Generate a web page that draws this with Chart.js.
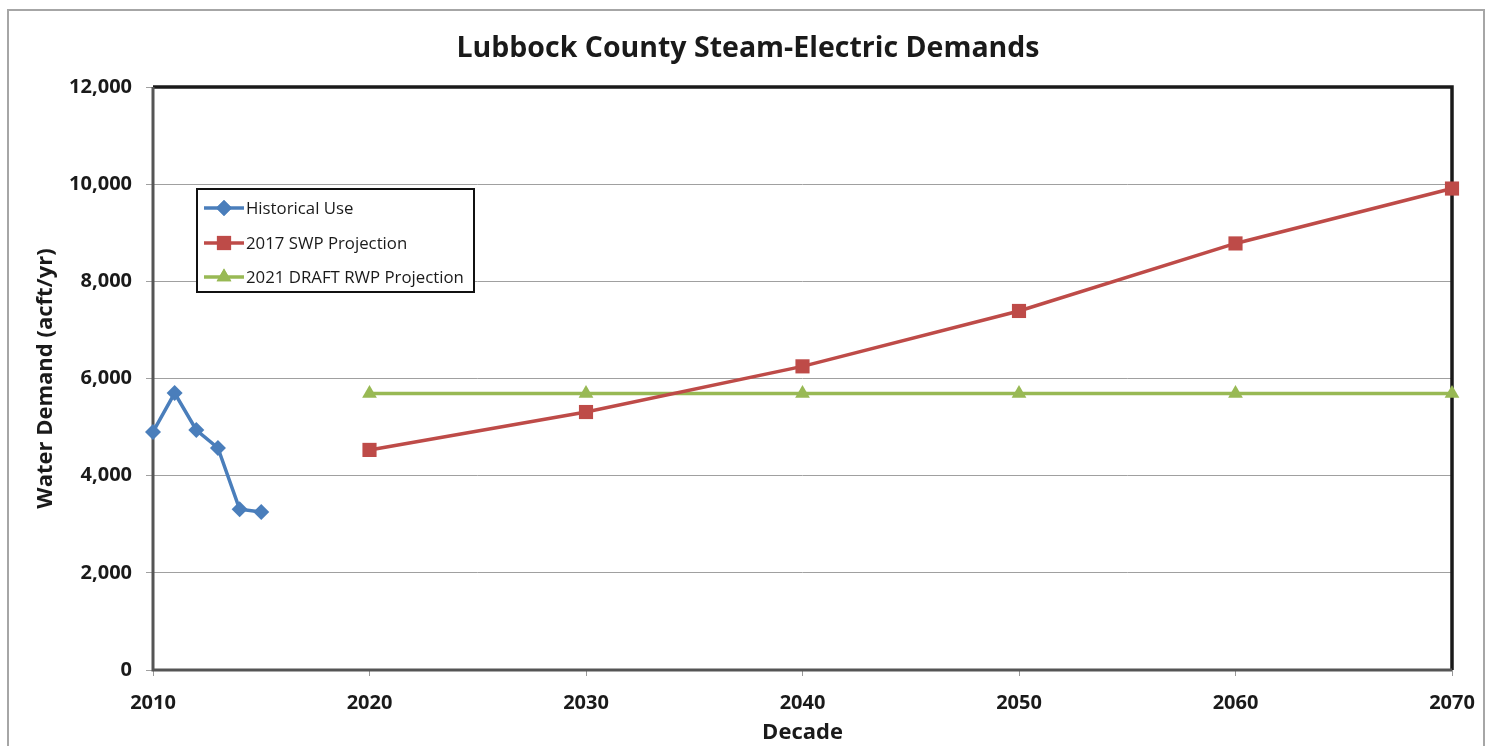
<!DOCTYPE html>
<html><head><meta charset="utf-8">
<script src="https://cdn.jsdelivr.net/npm/chart.js@4"></script>
<style>
html,body{margin:0;padding:0;background:#fff;}
#wrap{position:relative;width:1496px;height:746px;overflow:hidden;font-family:"Open Sans","Liberation Sans",sans-serif;}
#frame{position:absolute;left:7px;top:9px;width:1478px;height:760px;border:2px solid #a6a6a6;box-sizing:border-box;}
#title{position:absolute;left:0;width:1496px;top:26px;text-align:center;font-weight:bold;font-size:28.5px;line-height:40px;color:#1a1a1a;}
#legend{position:absolute;left:196px;top:188px;width:279px;height:105px;border:2px solid #111;background:#fff;box-sizing:border-box;font-size:16.8px;color:#1a1a1a;}
.li{position:absolute;left:6px;height:22px;line-height:22px;white-space:nowrap;}
.li canvas{vertical-align:middle;}
.li span{vertical-align:middle;margin-left:2px;}
canvas#c{position:absolute;left:0;top:0;}
</style></head>
<body><div id="wrap">
<div id="frame"></div>
<canvas id="c" width="1496" height="746"></canvas>
<div id="title">Lubbock County Steam-Electric Demands</div>
<div id="legend"></div>
</div>
<script>
const histYears = [2010, 2011, 2012, 2013, 2014, 2015];
const histValues = [4900, 5700, 4940, 4570, 3310, 3250];
const projYears = [2020, 2030, 2040, 2050, 2060, 2070];
const swpValues = [4530, 5310, 6250, 7390, 8780, 9910];
const rwpValues = [5690, 5690, 5690, 5690, 5690, 5690];
const seriesNames = ["Historical Use", "2017 SWP Projection", "2021 DRAFT RWP Projection"];
const xTicks = [2010, 2020, 2030, 2040, 2050, 2060, 2070];

const colors = ["#4a7ebb", "#be4b48", "#98b954"];
const styles = ["rectRot", "rect", "triangle"];
const radii = [8, 10, 8.5];

function pts(xs, ys){ return xs.map((x,i)=>({x:x, y:ys[i]})); }

const datasets = [
  {label: seriesNames[0], data: pts(histYears, histValues)},
  {label: seriesNames[1], data: pts(projYears, swpValues)},
  {label: seriesNames[2], data: pts(projYears, rwpValues)}
].map((d,i)=>Object.assign(d,{
  borderColor: colors[i], backgroundColor: colors[i], borderWidth: 3.5,
  pointStyle: styles[i], pointRadius: radii[i], pointHoverRadius: radii[i],
  pointBorderWidth: 0, tension: 0, clip: false
}));

const frameBorder = {
  id: 'frameBorder',
  beforeDatasetsDraw(chart){
    const a = chart.chartArea, ctx = chart.ctx;
    ctx.save();
    ctx.strokeStyle = '#1a1a1a'; ctx.lineWidth = 3.5;
    ctx.beginPath();
    ctx.moveTo(a.left, a.top); ctx.lineTo(a.right, a.top); ctx.lineTo(a.right, a.bottom);
    ctx.stroke();
    ctx.strokeStyle = '#555'; ctx.lineWidth = 3;
    ctx.beginPath();
    ctx.moveTo(a.left, a.top); ctx.lineTo(a.left, a.bottom); ctx.lineTo(a.right, a.bottom);
    ctx.stroke();
    ctx.restore();
  }
};

const tickFont = {family: "'Open Sans','Liberation Sans',sans-serif", size: 20, weight: 'bold'};
const titleFont = {family: "'Open Sans','Liberation Sans',sans-serif", size: 22, weight: 'bold'};

const chart = new Chart(document.getElementById('c'), {
  type: 'line',
  data: {datasets},
  options: {
    responsive: false, animation: false, devicePixelRatio: 1,
    layout: {padding: {top: 87, right: 44, left: 0, bottom: 0}},
    plugins: {legend: {display: false}, title: {display: false}, tooltip: {enabled: false}},
    scales: {
      x: {
        type: 'linear', min: 2010, max: 2070,
        afterBuildTicks(s){ s.ticks = xTicks.map(v=>({value:v})); },
        afterFit(s){ s.height = 76; },
        grid: {drawOnChartArea: false, drawTicks: true, tickLength: 6, color: '#999', lineWidth: 1},
        border: {display: false},
        ticks: {font: tickFont, color: '#1a1a1a', padding: 15, maxRotation: 0, callback: v => String(v)},
        title: {display: true, text: 'Decade', font: titleFont, color: '#1a1a1a', padding: {top: 0, bottom: 0}}
      },
      y: {
        min: 0, max: 12000,
        ticks: {stepSize: 2000, font: tickFont, color: '#1a1a1a', padding: 14,
                callback: v => v.toLocaleString('en-US')},
        afterFit(s){ s.width = 153; },
        grid: {color: '#a0a0a0', lineWidth: 1, tickLength: 7},
        border: {display: false},
        title: {display: true, text: 'Water Demand (acft/yr)', font: titleFont, color: '#1a1a1a', padding: {top: 33, bottom: 0}}
      }
    }
  },
  plugins: [frameBorder]
});

// HTML legend built from datasets
const leg = document.getElementById('legend');
const tops = [5, 40, 74];
datasets.forEach((d,i)=>{
  const row = document.createElement('div');
  row.className = 'li'; row.style.top = tops[i] + 'px';
  const cv = document.createElement('canvas'); cv.width = 40; cv.height = 22;
  const g = cv.getContext('2d');
  g.strokeStyle = d.borderColor; g.lineWidth = 3.5;
  g.beginPath(); g.moveTo(0,11); g.lineTo(40,11); g.stroke();
  g.fillStyle = d.backgroundColor;
  Chart.helpers.drawPoint(g, {pointStyle: d.pointStyle, radius: d.pointRadius, borderWidth: 0}, 20, 11);
  g.fill();
  row.appendChild(cv);
  const sp = document.createElement('span'); sp.textContent = d.label;
  row.appendChild(sp);
  leg.appendChild(row);
});
</script>
</body></html>
